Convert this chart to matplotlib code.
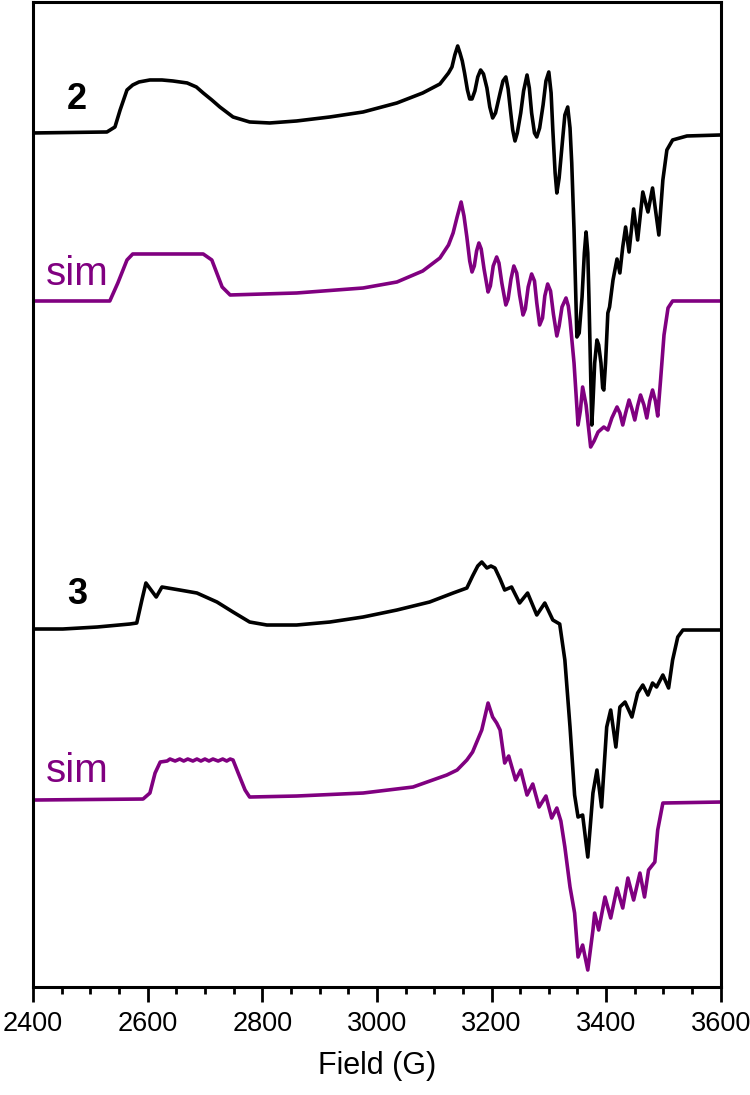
"""
plot.py - X-band EPR spectra of 2 and 3 with simulations (stacked)
output: out.png
"""
import matplotlib
matplotlib.use("Agg")
import matplotlib.pyplot as plt
from matplotlib.ticker import MultipleLocator

plt.rcParams["font.family"] = ["Liberation Sans", "DejaVu Sans"]

# ---- data (field in G, intensity in arb. units above each baseline) ----
field_2 = [2400, 2529, 2543, 2552, 2564, 2574, 2585, 2604, 2625, 2644, 2669,
           2685, 2697, 2712, 2726, 2749, 2778, 2813, 2860, 2918, 2976, 3035,
           3080, 3110, 3125, 3131, 3136, 3141, 3145, 3149, 3153, 3158, 3162,
           3166, 3171, 3176, 3181, 3186, 3192, 3197, 3202, 3207, 3211, 3215,
           3220, 3225, 3229, 3233, 3237, 3241, 3245, 3251, 3256, 3262, 3266,
           3270, 3275, 3279, 3284, 3290, 3295, 3300, 3304, 3307, 3311, 3314,
           3318, 3324, 3328, 3333, 3337, 3340, 3344, 3349, 3353, 3358, 3362,
           3365, 3368, 3370, 3375, 3377, 3380, 3384, 3387, 3391, 3394, 3396,
           3399, 3403, 3406, 3412, 3419, 3424, 3429, 3434, 3440, 3448, 3455,
           3464, 3473, 3481, 3492, 3499, 3506, 3516, 3541, 3600]
int_2 = [0, 1, 6, 23, 43, 48, 51, 53, 53, 52, 50,
         46, 40, 33, 26, 16, 11, 10, 12, 16, 21, 30,
         40, 49, 60, 66, 78, 87, 80, 72, 60, 43, 34,
         34, 42, 56, 63, 59, 45, 26, 15, 20, 30, 40,
         52, 56, 44, 23, 3, -8, 0, 20, 42, 58, 45,
         20, 0, -4, 5, 28, 52, 61, 40, 3, -40, -60,
         -45, -7, 18, 26, 5, -30, -97, -204, -200, -164, -120,
         -99, -120, -164, -292, -270, -230, -207, -212, -230, -255, -257,
         -230, -180, -174, -147, -126, -140, -114, -94, -119, -76, -107,
         -59, -79, -55, -102, -47, -17, -7, -3, -2]

field_2sim = [2400, 2534, 2548, 2564, 2574, 2697, 2712, 2730, 2744, 2860, 2976,
              3035, 3080, 3110, 3125, 3133, 3140, 3147, 3152, 3157, 3162, 3166,
              3170, 3174, 3178, 3182, 3187, 3194, 3198, 3203, 3209, 3213, 3218,
              3225, 3229, 3234, 3239, 3244, 3249, 3255, 3259, 3264, 3270, 3275,
              3279, 3284, 3289, 3293, 3298, 3303, 3308, 3314, 3318, 3323, 3330,
              3334, 3337, 3344, 3351, 3355, 3359, 3365, 3373, 3379, 3386, 3396,
              3403, 3410, 3419, 3424, 3429, 3434, 3440, 3445, 3450, 3455, 3460,
              3466, 3471, 3476, 3481, 3486, 3490, 3495, 3501, 3508, 3516, 3600]
int_2sim = [0, 0, 18, 41, 47, 47, 41, 14, 6, 8, 13,
            19, 30, 43, 56, 68, 84, 99, 85, 64, 40, 29,
            35, 50, 58, 52, 32, 9, 15, 35, 44, 38, 18,
            -4, 2, 22, 35, 28, 6, -14, -8, 14, 27, 20,
            -2, -24, -17, 5, 17, 10, -13, -35, -25, -6, 3,
            -5, -19, -62, -124, -110, -86, -104, -146, -140, -131, -126,
            -129, -117, -106, -112, -124, -112, -99, -108, -119, -105, -94,
            -104, -117, -100, -89, -100, -115, -79, -34, -7, 0, 0]

field_3 = [2400, 2452, 2512, 2569, 2581, 2590, 2597, 2606, 2615, 2625, 2656,
           2686, 2721, 2749, 2778, 2808, 2860, 2918, 2976, 3035, 3092, 3133,
           3157, 3167, 3176, 3183, 3192, 3199, 3206, 3215, 3223, 3235, 3249,
           3263, 3279, 3293, 3307, 3319, 3328, 3337, 3345, 3351, 3359, 3368,
           3377, 3384, 3392, 3401, 3408, 3417, 3424, 3433, 3445, 3455, 3464,
           3473, 3481, 3488, 3499, 3509, 3516, 3525, 3534, 3600]
int_3 = [0, 0, 2, 5, 6, 29, 46, 39, 32, 42, 39,
         36, 27, 17, 7, 4, 4, 7, 12, 19, 27, 36,
         41, 53, 63, 67, 61, 63, 61, 50, 39, 42, 26,
         36, 14, 26, 9, 5, -31, -98, -166, -188, -186, -228,
         -164, -141, -178, -98, -81, -118, -78, -73, -88, -64, -56,
         -66, -54, -58, -46, -59, -31, -8, -1, -1]

field_3sim = [2400, 2592, 2604, 2613, 2622, 2634, 2639, 2648, 2656, 2663, 2670,
              2679, 2686, 2693, 2700, 2707, 2714, 2723, 2731, 2738, 2744, 2749,
              2758, 2770, 2778, 2860, 2976, 3063, 3122, 3140, 3157, 3167, 3183,
              3194, 3202, 3209, 3215, 3223, 3230, 3242, 3251, 3262, 3272, 3283,
              3295, 3305, 3314, 3321, 3328, 3337, 3345, 3351, 3359, 3368, 3377,
              3380, 3387, 3398, 3408, 3419, 3429, 3438, 3448, 3459, 3467, 3474,
              3485, 3490, 3499, 3600]
int_3sim = [0, 1, 7, 27, 38, 39, 41, 39, 41, 39, 41,
            39, 41, 39, 41, 39, 41, 39, 41, 39, 41, 40,
            27, 10, 3, 4, 7, 13, 25, 30, 40, 48, 70,
            97, 83, 77, 70, 37, 44, 20, 30, 5, 16, -7,
            4, -18, -8, -21, -47, -87, -113, -157, -145, -170, -130,
            -113, -130, -97, -118, -88, -108, -78, -100, -73, -97, -70,
            -62, -30, -3, -2]

# vertical offsets of each trace in the stack
offsets = {"2": 854, "2sim": 686, "3": 358, "3sim": 187}

BLACK = "black"
PURPLE = "#800080"


def shifted(values, off):
    return [v + off for v in values]


def main():
    fig = plt.figure(figsize=(7.5, 10.95), dpi=100)
    ax = fig.add_axes([0.044, 0.0986, 0.917, 0.8996])

    lw = 2.6
    kw = dict(lw=lw, solid_joinstyle="round")
    ax.plot(field_2, shifted(int_2, offsets["2"]), color=BLACK, **kw)
    ax.plot(field_2sim, shifted(int_2sim, offsets["2sim"]), color=PURPLE, **kw)
    ax.plot(field_3, shifted(int_3, offsets["3"]), color=BLACK, **kw)
    ax.plot(field_3sim, shifted(int_3sim, offsets["3sim"]), color=PURPLE, **kw)

    # labels beside the traces
    ax.text(2477, 887, "2", fontsize=26, fontweight="bold", ha="center", va="center")
    ax.text(2477, 393, "3", fontsize=26, fontweight="bold", ha="center", va="center")
    ax.text(2423, 702, "sim", fontsize=29, color=PURPLE, ha="left", va="baseline")
    ax.text(2423, 205, "sim", fontsize=29, color=PURPLE, ha="left", va="baseline")

    ax.set_xlim(2400, 3600)
    ax.set_ylim(0, 985)
    ax.xaxis.set_major_locator(MultipleLocator(200))
    ax.xaxis.set_minor_locator(MultipleLocator(50))
    ax.tick_params(axis="x", which="major", direction="out", length=11, width=2,
                   labelsize=19.5, pad=6)
    ax.tick_params(axis="x", which="minor", direction="out", length=5, width=2)
    ax.set_yticks([])
    for sp in ax.spines.values():
        sp.set_linewidth(2.2)
    ax.set_xlabel("Field (G)", fontsize=22, labelpad=10)

    fig.savefig("out.png", dpi=100)
    plt.close(fig)


if __name__ == "__main__":
    main()
